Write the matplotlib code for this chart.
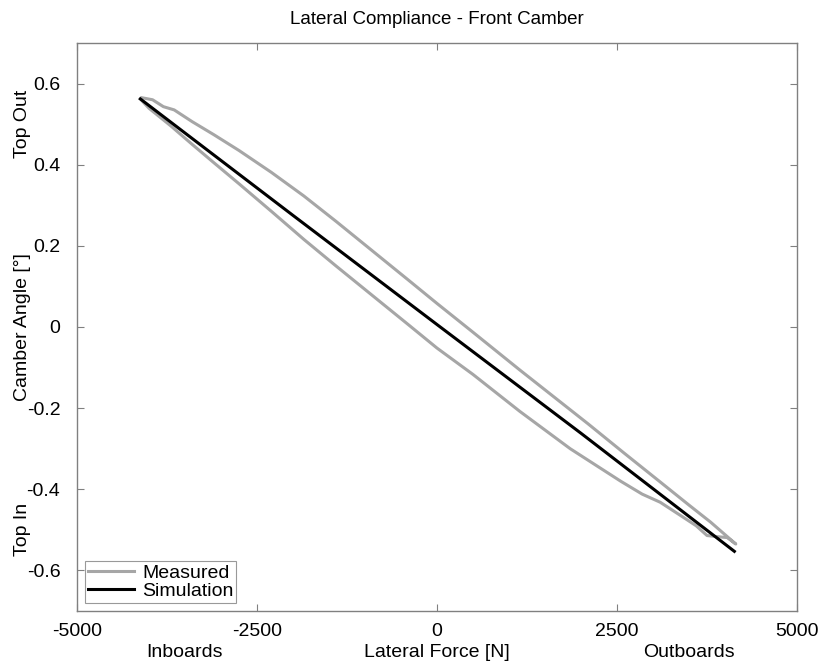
import matplotlib.pyplot as plt

plt.rcParams['font.family'] = ['Liberation Sans', 'DejaVu Sans']

# lateral force [N] and camber angle [deg], measured loop (out and back)
meas_force = [-4100, -3950, -3800, -3650, -3400, -3100, -2750, -2300, -1850, -1400,
              -900, -400, 0, 500, 1150, 1550, 2100, 2600, 3100, 3500, 3800, 4150,
              4030, 3900, 3750, 3600, 3420, 3100, 2850, 2550, 1850, 1150, 500, 0,
              -400, -900, -1400, -1850, -2300, -2750, -3100, -3400, -3700, -4000, -4120]
meas_camber = [0.565, 0.560, 0.543, 0.535, 0.506, 0.474, 0.435, 0.381, 0.323, 0.260,
               0.188, 0.116, 0.058, -0.013, -0.106, -0.162, -0.239, -0.311, -0.382, -0.439, -0.481, -0.535,
               -0.519, -0.517, -0.514, -0.490, -0.469, -0.432, -0.412, -0.380, -0.300, -0.208, -0.117, -0.052,
               0.006, 0.078, 0.150, 0.216, 0.285, 0.353, 0.405, 0.450, 0.496, 0.539, 0.562]

# simulated compliance
sim_force = [-4120, -2000, 0, 2000, 4130]
sim_camber = [0.562, 0.275, 0.006, -0.262, -0.553]

fig = plt.figure(figsize=(8.26, 6.66), dpi=100)
ax = fig.add_axes([0.0932, 0.0826, 0.8717, 0.8529])

ax.plot(meas_force, meas_camber, color='#a6a6a6', lw=2.2, label='Measured')
ax.plot(sim_force, sim_camber, color='black', lw=2.2, label='Simulation')

ax.set_xlim(-5000, 5000)
ax.set_ylim(-0.7, 0.7)
ax.set_xticks([-5000, -2500, 0, 2500, 5000])
ax.set_xticklabels(['-5000', '-2500', '0', '2500', '5000'])
ax.set_yticks([-0.6, -0.4, -0.2, 0, 0.2, 0.4, 0.6])
ax.set_yticklabels(['-0.6', '-0.4', '-0.2', '0', '0.2', '0.4', '0.6'])
ax.tick_params(direction='in', top=True, right=True, length=5, width=0.8,
               color='#808080', labelsize=14)
ax.tick_params(axis='x', pad=9)
ax.tick_params(axis='y', pad=12)
for s in ax.spines.values():
    s.set_color('#808080')
    s.set_linewidth(1.0)

ax.set_title('Lateral Compliance - Front Camber', fontsize=13.5, pad=14)
ax.set_xlabel('Lateral Force [N]', fontsize=14, va='center')
ax.xaxis.set_label_coords(0.5, -0.073)
ax.set_ylabel('Camber Angle [°]', fontsize=14, va='center')
ax.yaxis.set_label_coords(-0.076, 0.5)

# direction hints under the x axis and beside the y axis
tx = ax.get_xaxis_transform()
ax.text(-3500, -0.073, 'Inboards', transform=tx, ha='center', va='center', fontsize=14)
ax.text(3500, -0.073, 'Outboards', transform=tx, ha='center', va='center', fontsize=14)
ty = ax.get_yaxis_transform()
ax.text(-0.076, 0.5, 'Top Out', transform=ty, rotation=90, ha='center', va='center', fontsize=14)
ax.text(-0.076, -0.5, 'Top In', transform=ty, rotation=90, ha='center', va='center', fontsize=14)

leg = ax.legend(loc='lower left', fontsize=14, frameon=True, fancybox=False,
                handlelength=2.4, handletextpad=0.4, borderpad=0.15, labelspacing=0.05,
                borderaxespad=0.4)
leg.get_frame().set_edgecolor('#808080')
leg.get_frame().set_linewidth(0.8)

fig.savefig('out.png', dpi=100)
